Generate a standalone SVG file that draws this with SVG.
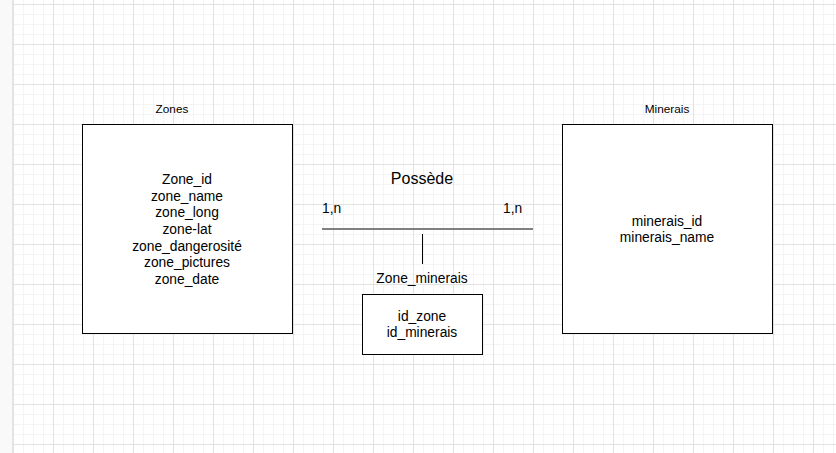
<svg xmlns="http://www.w3.org/2000/svg" width="836" height="453" viewBox="0 0 836 453">
<defs>
<pattern id="minor" x="13" y="4" width="10" height="10" patternUnits="userSpaceOnUse">
<path d="M0 0.5H10M0.5 0V10" fill="none" stroke="#f4f4f4" stroke-width="1"/>
</pattern>
<pattern id="major" x="13" y="4" width="40" height="40" patternUnits="userSpaceOnUse">
<path d="M0 0.5H40M0.5 0V40" fill="none" stroke="#e2e2e2" stroke-width="1"/>
</pattern>
</defs>
<style>
text{font-family:"Liberation Sans",Arial,sans-serif;fill:#000;text-anchor:middle}
.t{font-size:13.8px}
.s{font-size:11.8px}
.b{fill:#fff;stroke:#000;stroke-width:1}
</style>
<rect width="836" height="453" fill="#fff"/>
<rect x="13" width="823" height="453" fill="url(#minor)"/>
<rect x="13" width="823" height="453" fill="url(#major)"/>
<rect x="0" y="0" width="12" height="453" fill="#f9f9f9"/>
<line x1="12.5" y1="0" x2="12.5" y2="453" stroke="#e4e4e4"/>
<g id="zones">
<text class="s" x="172" y="113">Zones</text>
<rect class="b" x="82.5" y="124.5" width="210" height="209"/>
<text class="t" x="187" y="184">Zone_id</text>
<text class="t" x="187" y="200.7">zone_name</text>
<text class="t" x="187" y="217.3">zone_long</text>
<text class="t" x="187" y="234">zone-lat</text>
<text class="t" x="187" y="250.7">zone_dangerosité</text>
<text class="t" x="187" y="267.3">zone_pictures</text>
<text class="t" x="187" y="284">zone_date</text>
</g>
<g id="minerais">
<text class="s" x="667" y="113">Minerais</text>
<rect class="b" x="562.5" y="124.5" width="210" height="209"/>
<text class="t" x="667" y="225.7">minerais_id</text>
<text class="t" x="667" y="242.3">minerais_name</text>
</g>
<g id="zone_minerais">
<text class="t" x="422" y="283">Zone_minerais</text>
<rect class="b" x="362.5" y="294.5" width="120" height="60"/>
<text class="t" x="422" y="320.7">id_zone</text>
<text class="t" x="422" y="337.3">id_minerais</text>
</g>
<g id="connectors">
<line x1="322" y1="229" x2="533" y2="229" stroke="#808080" stroke-width="2"/>
<line x1="422.5" y1="234" x2="422.5" y2="264" stroke="#000" stroke-width="1"/>
<text x="422" y="184" style="font-size:16px">Possède</text>
<text class="t" x="322" y="213.3" style="text-anchor:start">1,n</text>
<text class="t" x="503" y="213.3" style="text-anchor:start">1,n</text>
</g>
</svg>
